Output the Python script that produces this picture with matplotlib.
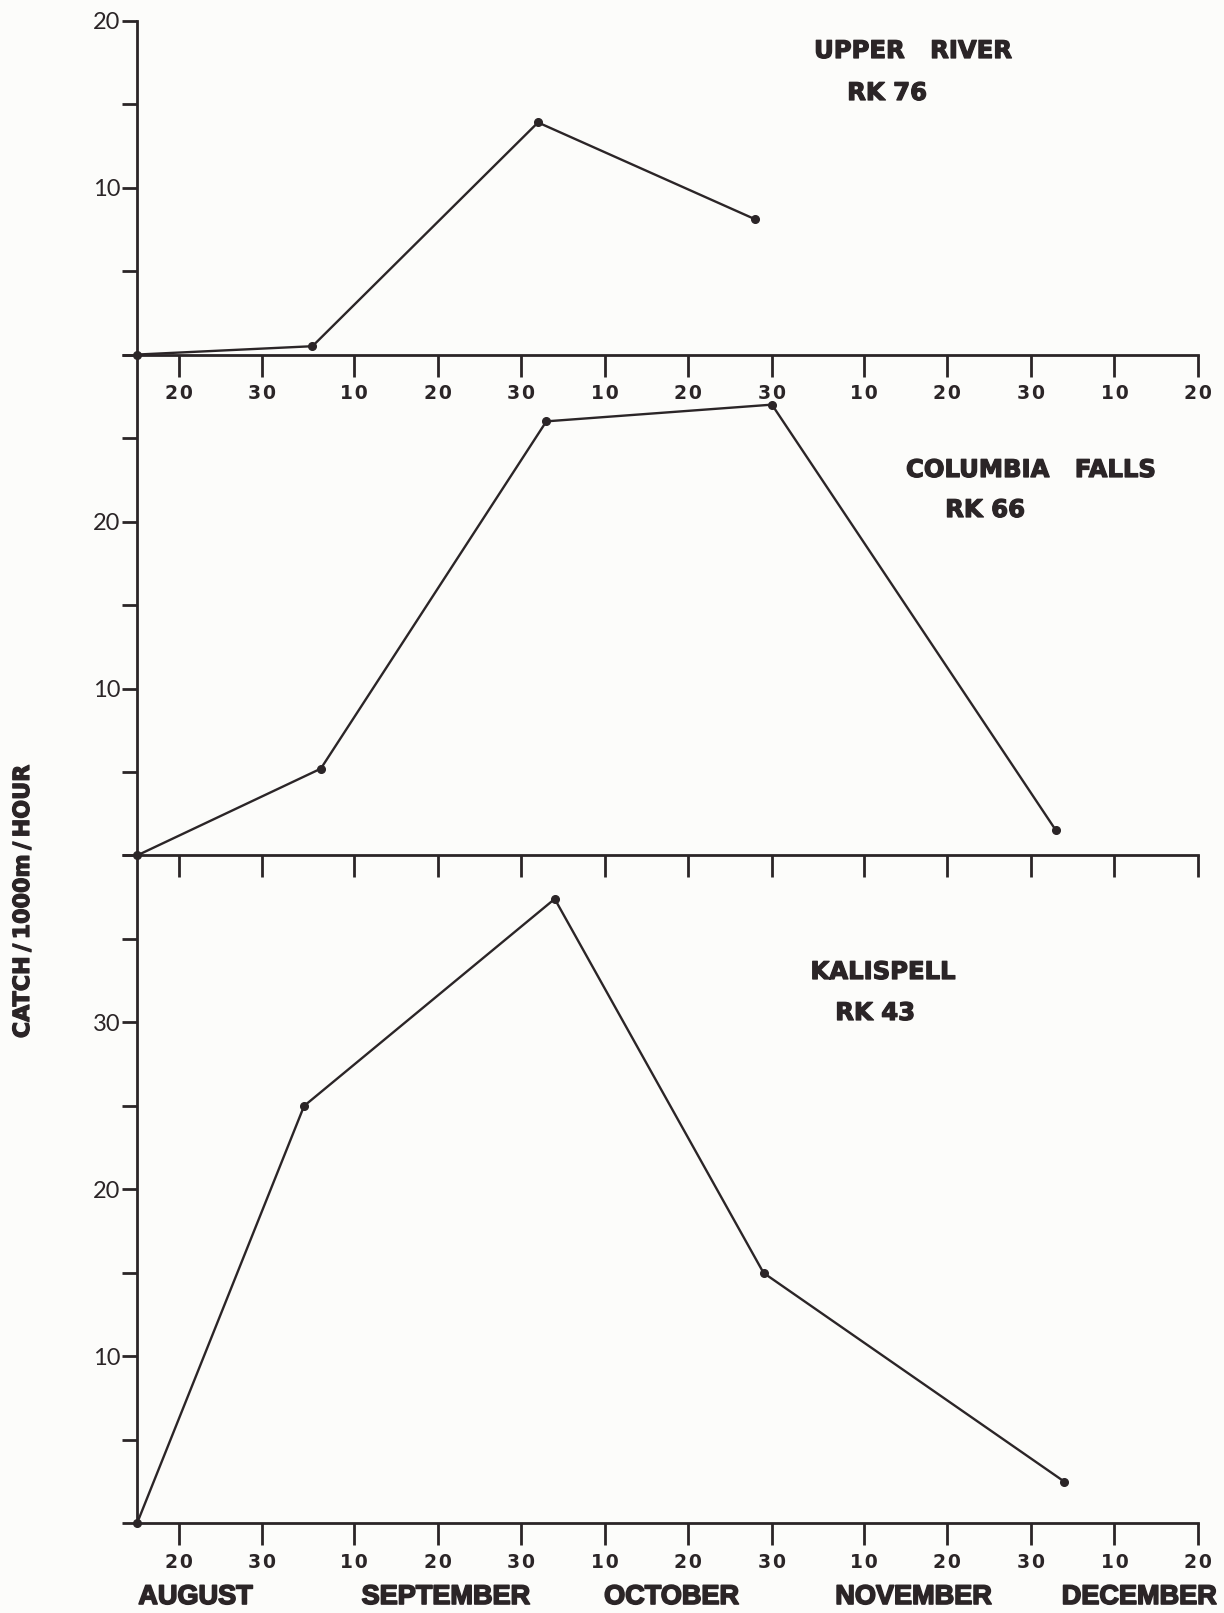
import matplotlib
matplotlib.use("Agg")
import matplotlib.pyplot as plt
import matplotlib.dates as mdates
import matplotlib.patheffects as pe
from matplotlib.transforms import blended_transform_factory
from datetime import date

YEAR = 1979

# Sampling dates (month, day) and catch per 1000 m of shoreline per hour
upper_dates = [(8, 15), (9, 5), (10, 2), (10, 28)]
upper_catch = [0.0, 0.5, 13.9, 8.1]

columbia_dates = [(8, 15), (9, 6), (10, 3), (10, 30), (12, 3)]
columbia_catch = [0.0, 5.2, 26.0, 27.0, 1.5]

kalispell_dates = [(8, 15), (9, 4), (10, 4), (10, 29), (12, 4)]
kalispell_catch = [0.0, 25.0, 37.4, 15.0, 2.5]

panel_titles = [("UPPER   RIVER", "RK 76"),
                ("COLUMBIA   FALLS", "RK 66"),
                ("KALISPELL", "RK 43")]
panel_ymax = [20, 30, 40]
panel_ylabels = [[10, 20], [10, 20], [10, 20, 30]]

tick_dates = [(8, 20), (8, 30), (9, 10), (9, 20), (9, 30), (10, 10), (10, 20),
              (10, 30), (11, 10), (11, 20), (11, 30), (12, 10), (12, 20)]
tick_text = ["20", "30", "10", "20", "30", "10", "20", "30", "10", "20", "30", "10", "20"]
months = ["AUGUST", "SEPTEMBER", "OCTOBER", "NOVEMBER", "DECEMBER"]
month_pos = [(8, 22), (9, 21), (10, 18), (11, 16), (12, 13)]

INK = "#2b2527"
PAPER = "#fcfcfa"
W, H = 1224, 1613


def dn(md):
    return mdates.date2num(date(YEAR, md[0], md[1]))


def fx(px):
    return px / W


def fy(py):
    return 1 - py / H


def spaced(s, sep="\u200a"):
    return sep.join(s)


heavy = [pe.withStroke(linewidth=0.9, foreground=INK)]

fig = plt.figure(figsize=(W / 100, H / 100), dpi=100, facecolor=PAPER)
gs = fig.add_gridspec(3, 1, height_ratios=panel_ymax, hspace=0,
                      left=137 / W, right=1198 / W, top=fy(20.6), bottom=fy(1523.4))

series = [(upper_dates, upper_catch), (columbia_dates, columbia_catch),
          (kalispell_dates, kalispell_catch)]

bold_font = ["DejaVu Sans"]
ytick_font = ["Lato", "DejaVu Sans"]
xtick_labels = [spaced(t) for t in tick_text]

axes = []
for i, (dates, catch) in enumerate(series):
    ax = fig.add_subplot(gs[i])
    axes.append(ax)
    ax.set_facecolor("none")
    for s in ("top", "right"):
        ax.spines[s].set_visible(False)
    for s in ("left", "bottom"):
        ax.spines[s].set_linewidth(2.0)
        ax.spines[s].set_color(INK)
    ax.set_xlim(dn((8, 15)), dn((12, 20)))
    ax.set_ylim(0, panel_ymax[i])

    ax.plot([dn(d) for d in dates], catch, color=INK, lw=1.7, marker="o",
            ms=5.5, mfc=INK, mec=INK, clip_on=False, zorder=5)

    yt = list(range(0, panel_ymax[i] + 1, 5))
    ax.set_yticks(yt)
    ax.set_yticklabels([str(v) if v in panel_ylabels[i] else "" for v in yt],
                       family=ytick_font, fontsize=17, color=INK)
    ax.tick_params(axis="y", direction="out", length=11, width=2, color=INK, pad=1)

    ax.set_xticks([dn(d) for d in tick_dates])
    ax.tick_params(axis="x", direction="out", length=16, width=2, color=INK, pad=5)
    if i == 1:
        ax.set_xticklabels([])
    else:
        ax.set_xticklabels(xtick_labels, fontsize=13.5, fontweight="bold",
                           family=bold_font, color=INK)

# Station labels inside each panel (pixel centres of the two lines)
title_px = [((913, 51), (887, 93)), ((1031, 470), (985, 510)), ((883, 972), (875, 1013))]
for (t1, t2), ((x1, y1), (x2, y2)) in zip(panel_titles, title_px):
    fig.text(fx(x1), fy(y1), t1, ha="center", va="center", fontsize=17.5,
             fontweight="heavy", family=bold_font, color=INK, path_effects=heavy)
    fig.text(fx(x2), fy(y2), t2, ha="center", va="center", fontsize=17.5,
             fontweight="heavy", family=bold_font, color=INK, path_effects=heavy)

# Month names under the bottom axis
bottom_ax = axes[-1]
month_tr = blended_transform_factory(bottom_ax.transData, fig.transFigure)
for name, md in zip(months, month_pos):
    bottom_ax.text(dn(md), fy(1597), name, transform=month_tr, ha="center",
                   va="center", fontsize=19.5, fontweight="bold",
                   family=["Liberation Sans", "DejaVu Sans"], color=INK,
                   clip_on=False, path_effects=[pe.withStroke(linewidth=1.2, foreground=INK)])

fig.text(fx(23), fy(901), "CATCH\u2009/\u20091000m\u2009/\u2009HOUR", rotation=90,
         ha="center", va="center", fontsize=16, fontweight="bold",
         family=bold_font, color=INK, path_effects=heavy)

fig.savefig("out.png", dpi=100, facecolor=PAPER)
